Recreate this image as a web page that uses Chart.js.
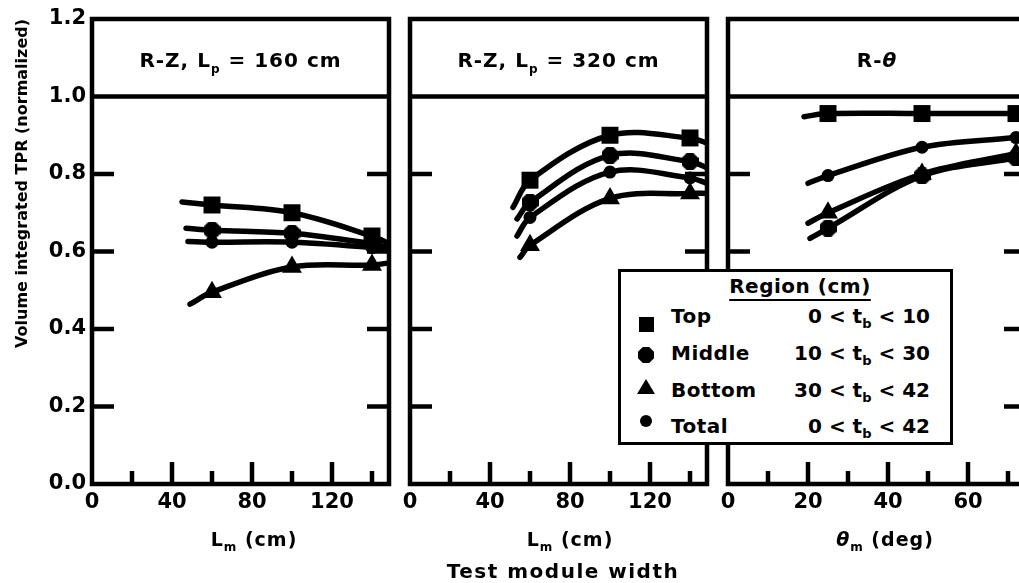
<!DOCTYPE html>
<html>
<head>
<meta charset="utf-8">
<script src="https://cdn.jsdelivr.net/npm/chart.js@4.4.1/dist/chart.umd.min.js"></script>
<style>
  html, body { margin: 0; padding: 0; background: #fff; }
  body { width: 1019px; height: 583px; overflow: hidden; position: relative;
         font-family: "DejaVu Sans", sans-serif; font-weight: bold; color: #000; }
  canvas { position: absolute; top: 0; }
  #legend { position: absolute; left: 618px; top: 269px; width: 335px; height: 176px;
            box-sizing: border-box; border: 3px solid #000; background: #fff;
            font-size: 20px; line-height: 20px; }
  #legend .t { position: absolute; left: 179px; top: 4px; transform: translateX(-50%);
               white-space: nowrap; text-decoration: underline; text-decoration-thickness: 2px;
               text-underline-offset: 6px; letter-spacing: 0.5px; }
  #legend .name { position: absolute; left: 50px; white-space: nowrap; letter-spacing: 0.5px; }
  #legend .range { position: absolute; right: 20px; white-space: nowrap; }
  #legend .sub { font-size: 13px; position: relative; top: 5px; }
  #legend .mk { position: absolute; background: #000; }
  #bottomTitle { position: absolute; left: 563px; top: 561px; transform: translateX(-50%);
                 font-size: 20px; line-height: 20px; letter-spacing: 1.5px; white-space: nowrap; }
</style>
</head>
<body>
<canvas id="rz160" width="400" height="583" style="left:0px"></canvas>
<canvas id="rz320" width="320" height="583" style="left:400px"></canvas>
<canvas id="rtheta" width="320" height="583" style="left:718px"></canvas>
<div id="bottomTitle">Test module width</div>
<div id="legend"></div>
<script>
// regions of the blanket, same order in every panel
const regionNames = ['Top', 'Middle', 'Bottom', 'Total'];
const rangeLow = [0, 10, 30, 0];
const rangeHigh = [10, 30, 42, 42];

const yTicks = [0.0, 0.2, 0.4, 0.6, 0.8, 1.0, 1.2];

// test module widths where the points were computed
const rzModules = [60, 100, 140];
const thetaModules = [25, 48.5, 72];

// R-Z, Lp = 160 cm
const rz160Top    = [0.720, 0.700, 0.640];
const rz160Middle = [0.655, 0.647, 0.620];
const rz160Bottom = [0.495, 0.560, 0.565];
const rz160Total  = [0.624, 0.624, 0.610];
const rz160CurveStart = [[45, 0.728], [47, 0.660], [49, 0.464], [48, 0.626]];
const rz160CurveEnd   = [[148, 0.622], [148, 0.610], [148, 0.570], [148, 0.602]];

// R-Z, Lp = 320 cm
const rz320Top    = [0.784, 0.900, 0.893];
const rz320Middle = [0.727, 0.848, 0.832];
const rz320Bottom = [0.616, 0.737, 0.750];
const rz320Total  = [0.688, 0.805, 0.790];
const rz320CurveStart = [[51.5, 0.714], [53.5, 0.684], [55, 0.585], [53.5, 0.640]];
const rz320CurveEnd   = [[148.5, 0.880], [148.5, 0.816], [148.5, 0.750], [148.5, 0.776]];

// R-theta
const thetaTop    = [0.956, 0.956, 0.956];
const thetaMiddle = [0.660, 0.795, 0.842];
const thetaBottom = [0.700, 0.800, 0.853];
const thetaTotal  = [0.796, 0.869, 0.894];
const thetaCurveStart = [[19, 0.948], [20.5, 0.634], [20, 0.673], [20, 0.776]];
const thetaCurveEnd   = [[74.5, 0.956], [74.5, 0.848], [74.5, 0.860], [74.5, 0.897]];

// panel texts: [text, kind] where kind is '' | 'sub' | 'it'
const rz160Header = [['R-Z, L', ''], ['p', 'sub'], [' = 160 cm', '']];
const rz320Header = [['R-Z, L', ''], ['p', 'sub'], [' = 320 cm', '']];
const thetaHeader = [['R-', ''], ['\u03b8', 'it']];
const lmTitle = [['L', ''], ['m', 'sub'], [' (cm)', '']];
const thetaTitle = [['\u03b8', 'it'], ['m', 'sub'], [' (deg)', '']];
const yTitle = 'Volume integrated TPR (normalized)';

const FONT = '"DejaVu Sans"';

function octagon(size) {
    const c = document.createElement('canvas');
    c.width = size; c.height = size;
    const g = c.getContext('2d');
    const a = size * 0.3;
    g.fillStyle = '#000';
    g.beginPath();
    g.moveTo(a, 0); g.lineTo(size - a, 0); g.lineTo(size, a); g.lineTo(size, size - a);
    g.lineTo(size - a, size); g.lineTo(a, size); g.lineTo(0, size - a); g.lineTo(0, a);
    g.closePath();
    g.fill();
    return c;
}

const markerStyles = ['rect', octagon(17), 'triangle', 'circle'];
const markerRadius = [12, 9, 11.5, 6.5];

function drawRich(ctx, parts, cx, baseline, size) {
    const fontFor = kind => (kind === 'it' ? 'italic ' : '') + 'bold ' +
        (kind === 'sub' ? Math.round(size * 0.62) : size) + 'px ' + FONT;
    let total = 0;
    const widths = parts.map(([t, kind]) => {
        ctx.font = fontFor(kind);
        const w = ctx.measureText(t).width;
        total += w;
        return w;
    });
    let x = cx - total / 2;
    ctx.textAlign = 'left';
    ctx.textBaseline = 'alphabetic';
    ctx.fillStyle = '#000';
    parts.forEach(([t, kind], i) => {
        ctx.font = fontFor(kind);
        ctx.fillText(t, x, baseline + (kind === 'sub' ? size * 0.28 : 0));
        x += widths[i];
    });
}

const panelFrame = {
    id: 'panelFrame',
    beforeDatasetsDraw(chart, args, opts) {
        const { ctx, chartArea: a, scales: { x, y } } = chart;
        ctx.save();
        ctx.strokeStyle = '#000';
        ctx.lineWidth = 4.5;
        ctx.strokeRect(a.left, a.top, a.right - a.left, a.bottom - a.top);
        const yHead = y.getPixelForValue(1.0);
        ctx.beginPath();
        ctx.moveTo(a.left, yHead);
        ctx.lineTo(a.right, yHead);
        // inward ticks on both sides
        y.ticks.forEach(t => {
            if (t.value < 0.1 || t.value > 0.9) return;
            const py = y.getPixelForValue(t.value);
            ctx.moveTo(a.left, py); ctx.lineTo(a.left + 22, py);
            ctx.moveTo(a.right, py); ctx.lineTo(a.right - 22, py);
        });
        x.ticks.forEach(t => {
            if (t.value <= 0) return;
            const px = x.getPixelForValue(t.value);
            const len = Math.abs(t.value % opts.major) < 1e-6 ? 22 : 13;
            ctx.moveTo(px, a.bottom); ctx.lineTo(px, a.bottom - len);
        });
        ctx.stroke();
        ctx.letterSpacing = '1px';
        drawRich(ctx, opts.header, (a.left + a.right) / 2, 67, 20);
        drawRich(ctx, opts.xTitle, x.getPixelForValue(opts.xTitleAt), 546, 19);
        ctx.restore();
    }
};

function regionDatasets(xs, series, starts, ends) {
    return series.map((ys, i) => ({
        label: regionNames[i],
        data: [
            { x: starts[i][0], y: starts[i][1] },
            ...xs.map((x, j) => ({ x, y: ys[j] })),
            { x: ends[i][0], y: ends[i][1] }
        ],
        pointRadius: [0, ...xs.map(() => markerRadius[i]), 0],
        pointStyle: markerStyles[i],
        pointBackgroundColor: '#000',
        pointBorderColor: '#000',
        pointBorderWidth: 0,
        borderColor: '#000',
        borderWidth: 5.5,
        borderCapStyle: 'round',
        tension: 0.35,
        fill: false
    }));
}

function makePanel(id, cfg) {
    return new Chart(document.getElementById(id), {
        type: 'line',
        data: { datasets: cfg.datasets },
        options: {
            responsive: false,
            animation: false,
            devicePixelRatio: 1,
            layout: { padding: cfg.padding },
            plugins: {
                legend: { display: false },
                tooltip: { enabled: false },
                panelFrame: { header: cfg.header, xTitle: cfg.xTitle, xTitleAt: cfg.xTitleAt, major: cfg.major }
            },
            scales: {
                x: {
                    type: 'linear',
                    min: 0,
                    max: cfg.xMax,
                    grid: { display: false, drawTicks: false },
                    border: { display: false },
                    ticks: {
                        stepSize: cfg.step,
                        includeBounds: false,
                        maxRotation: 0,
                        autoSkip: false,
                        padding: 6,
                        color: '#000',
                        font: { family: FONT, weight: 'bold', size: 21 },
                        callback: v => (Math.abs(v % cfg.major) < 1e-6 ? String(v) : '')
                    },
                    afterFit: s => { s.height = 99; s.paddingLeft = 0; s.paddingRight = 0; }
                },
                y: {
                    min: 0,
                    max: 1.2,
                    grid: { display: false, drawTicks: false },
                    border: { display: false },
                    afterBuildTicks: s => { s.ticks = yTicks.map(v => ({ value: v })); },
                    ticks: {
                        display: cfg.showY,
                        padding: 6,
                        color: '#000',
                        font: { family: FONT, weight: 'bold', size: 21 },
                        callback: v => v.toFixed(1)
                    },
                    title: {
                        display: cfg.showY,
                        text: yTitle,
                        align: 'end',
                        color: '#000',
                        padding: { top: 13, bottom: 0 },
                        font: { family: FONT, weight: 'bold', size: 16 }
                    },
                    afterFit: s => { s.width = cfg.showY ? 92 : 0; s.paddingTop = 0; s.paddingBottom = 0; }
                }
            }
        },
        plugins: [panelFrame]
    });
}

makePanel('rz160', {
    datasets: regionDatasets(rzModules, [rz160Top, rz160Middle, rz160Bottom, rz160Total], rz160CurveStart, rz160CurveEnd),
    padding: { top: 19, right: 11, bottom: 0, left: 0 },
    xMax: 148.5, step: 20, major: 40, showY: true,
    header: rz160Header, xTitle: lmTitle, xTitleAt: 81
});

makePanel('rz320', {
    datasets: regionDatasets(rzModules, [rz320Top, rz320Middle, rz320Bottom, rz320Total], rz320CurveStart, rz320CurveEnd),
    padding: { top: 19, right: 13, bottom: 0, left: 10 },
    xMax: 148.5, step: 20, major: 40, showY: false,
    header: rz320Header, xTitle: lmTitle, xTitleAt: 80
});

makePanel('rtheta', {
    datasets: regionDatasets(thetaModules, [thetaTop, thetaMiddle, thetaBottom, thetaTotal], thetaCurveStart, thetaCurveEnd),
    padding: { top: 19, right: 12, bottom: 0, left: 10 },
    xMax: 74.5, step: 10, major: 20, showY: false,
    header: thetaHeader, xTitle: thetaTitle, xTitleAt: 39.25
});

// legend box
const legend = document.getElementById('legend');
const markerCss = [
    'left:18px;top:45px;width:15px;height:15px;',
    'left:17px;top:75px;width:16px;height:16px;clip-path:polygon(30% 0,70% 0,100% 30%,100% 70%,70% 100%,30% 100%,0 70%,0 30%);',
    'left:16px;top:107px;width:18px;height:15px;clip-path:polygon(50% 0,100% 100%,0 100%);',
    'left:19px;top:143px;width:12px;height:12px;border-radius:50%;'
];
const rowTops = [34, 71, 108, 144];
let html = '<div class="t">Region (cm)</div>';
regionNames.forEach((name, i) => {
    html += `<div class="mk" style="${markerCss[i]}"></div>`;
    html += `<div class="name" style="top:${rowTops[i]}px">${name}</div>`;
    html += `<div class="range" style="top:${rowTops[i]}px">${rangeLow[i]} &lt; t<span class="sub">b</span> &lt; ${rangeHigh[i]}</div>`;
});
legend.innerHTML = html;
</script>
</body>
</html>
